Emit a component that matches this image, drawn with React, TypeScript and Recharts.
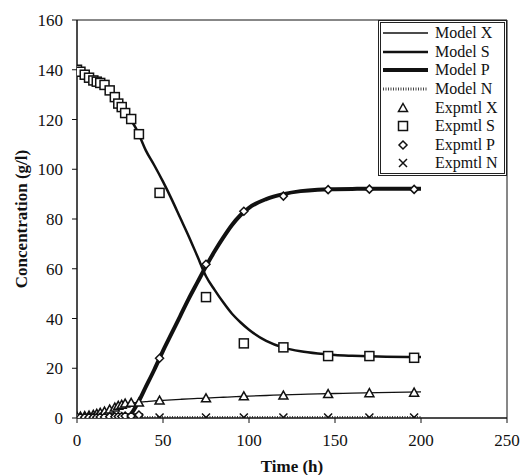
import { ComposedChart, Legend, Line, ReferenceArea, Scatter, XAxis, YAxis } from 'recharts'

// model curves
const modelTime = [0, 5, 10, 15, 20, 25, 30, 35, 40, 45, 50, 55, 60, 65, 70, 75, 80, 85, 90, 95, 100, 110, 120, 130, 140, 150, 160, 175, 200]
const modelX = [0.5, 0.9, 1.5, 2.5, 3.7, 5.0, 5.9, 6.3, 6.6, 6.9, 7.1, 7.3, 7.5, 7.7, 7.85, 8.0, 8.2, 8.35, 8.5, 8.65, 8.8, 9.05, 9.3, 9.5, 9.7, 9.85, 10.0, 10.2, 10.5]
const modelS = [140, 138, 135.7, 133.5, 130.5, 126.3, 121.3, 115.5, 107.6, 101.5, 95, 88, 80.5, 73, 65, 57, 51.5, 46.5, 42, 38.5, 35.5, 31, 28.3, 26.8, 25.9, 25.3, 25, 24.7, 24.5]
const modelP = [null, null, null, null, null, null, 0, 5.5, 12.5, 19.5, 27, 34, 41, 48, 54.5, 61, 67, 72.5, 77.5, 81.5, 84.5, 88, 90, 91.2, 91.8, 92, 92.1, 92.2, 92.2]
const modelN = [0.2, 0.2, 0.2, 0.2, 0.2, 0.2, 0.2, 0.2, 0.2, 0.2, 0.2, 0.2, 0.2, 0.2, 0.2, 0.2, 0.2, 0.2, 0.2, 0.2, 0.2, 0.2, 0.2, 0.2, 0.2, 0.2, 0.2, 0.2, 0.2]

// experimental points
const expTime = [0, 2, 4.5, 7, 9.5, 11.5, 13.5, 16, 19, 22, 24, 26, 28, 31.5, 36, 48, 75, 97, 120, 146, 170, 196]
const expX = [0.5, 0.6, 0.8, 1.0, 1.3, 1.7, 2.1, 2.6, 3.4, 4.2, 4.9, 5.3, 5.8, 6.1, 6.2, 7.0, 7.9, 8.7, 9.0, 9.6, 10.0, 10.2]
const expS = [140, 139.2, 138, 136.8, 135.7, 135.2, 134.7, 133.9, 131.7, 129, 126.4, 125, 122.6, 120.2, 114.1, 90.5, 48.6, 30, 28.4, 24.9, 24.9, 24.2]
const expP = [0.3, 0.3, 0.3, 0.3, 0.3, 0.3, 0.4, 0.4, 0.5, 0.5, 0.6, 0.6, 0.8, 0.8, 1.2, 24, 61.8, 83.1, 89.2, 91.8, 92, 91.9]
const expN = [0.2, 0.2, 0.2, 0.2, 0.2, 0.2, 0.2, 0.2, 0.2, 0.2, 0.2, 0.2, 0.2, 0.2, 0.2, 0.2, 0.2, 0.2, 0.2, 0.2, 0.2, 0.2]

const xTicks = [0, 50, 100, 150, 200, 250]
const yTicks = [0, 20, 40, 60, 80, 100, 120, 140, 160]

const legendNames = ['Model X', 'Model S', 'Model P', 'Model N', 'Expmtl X', 'Expmtl S', 'Expmtl P', 'Expmtl N']

const FONT = '"Liberation Serif", "Times New Roman", serif'
const INK = '#111'

const pair = (ts: number[], vs: (number | null)[]) => ts.map((t, i) => ({ t, v: vs[i] }))

const Tri = ({ cx, cy }: any) => (
  <path d={`M${cx},${cy - 4.5}L${cx + 4.5},${cy + 3.5}L${cx - 4.5},${cy + 3.5}Z`} fill="#fff" stroke={INK} strokeWidth={1.5} />
)
const Sq = ({ cx, cy }: any) => (
  <rect x={cx - 4.5} y={cy - 4.5} width={9} height={9} fill="#fff" stroke={INK} strokeWidth={1.5} />
)
const Dia = ({ cx, cy }: any) => (
  <path d={`M${cx},${cy - 4}L${cx + 4},${cy}L${cx},${cy + 4}L${cx - 4},${cy}Z`} fill="#fff" stroke={INK} strokeWidth={1.5} />
)
const Cross = ({ cx, cy }: any) => (
  <path d={`M${cx - 4},${cy - 4}L${cx + 4},${cy + 4}M${cx - 4},${cy + 4}L${cx + 4},${cy - 4}`} stroke={INK} strokeWidth={1.5} />
)

const lineStyle: Record<string, any> = {
  'Model X': { stroke: INK, strokeWidth: 1.3 },
  'Model S': { stroke: INK, strokeWidth: 2.5 },
  'Model P': { stroke: INK, strokeWidth: 4 },
  'Model N': { stroke: '#444', strokeWidth: 3, strokeDasharray: '1 1.5' },
}
const markers: Record<string, any> = { 'Expmtl X': Tri, 'Expmtl S': Sq, 'Expmtl P': Dia, 'Expmtl N': Cross }

function LegendBox() {
  return (
    <div style={{ border: '3px double #222', background: '#fff', width: 123, paddingTop: 1, fontFamily: FONT, fontSize: 16, color: INK }}>
      {legendNames.map((name) => {
        const M = markers[name]
        return (
          <div key={name} style={{ display: 'flex', alignItems: 'center', height: 18.6 }}>
            <svg width={52} height={18} style={{ flex: 'none' }}>
              {M ? <M cx={22} cy={9} /> : <line x1={2} x2={47} y1={9} y2={9} {...lineStyle[name]} />}
            </svg>
            <span style={{ marginLeft: 2, lineHeight: '18px' }}>{name}</span>
          </div>
        )
      })}
    </div>
  )
}

export default function App() {
  const tick = { fontSize: 17, fill: INK, fontFamily: FONT }
  return (
    <div style={{ position: 'absolute', left: 0, top: 0, background: '#fff' }}>
      <ComposedChart width={521} height={475} margin={{ top: 20, right: 14, bottom: 0, left: 0 }}>
        <XAxis dataKey="t" type="number" domain={[0, 250]} ticks={xTicks} height={57} tick={tick} tickSize={5} tickMargin={11}
          stroke={INK} allowDataOverflow
          label={{ value: 'Time (h)', position: 'insideBottom', offset: 3, style: { fontSize: 17, fontWeight: 700, fill: INK, fontFamily: FONT } }} />
        <XAxis xAxisId="in" type="number" domain={[0, 250]} ticks={xTicks} mirror tick={false} axisLine={false} tickSize={5} stroke={INK} allowDataOverflow />
        <YAxis dataKey="v" type="number" domain={[0, 160]} ticks={yTicks} width={77} tick={tick} tickSize={5} tickMargin={9}
          stroke={INK} allowDataOverflow
          label={{ value: 'Concentration (g/l)', angle: -90, position: 'center', dx: -18, style: { fontSize: 17, fontWeight: 700, fill: INK, fontFamily: FONT, textAnchor: 'middle' } }} />
        <YAxis yAxisId="in" type="number" domain={[0, 160]} ticks={yTicks} mirror tick={false} axisLine={false} tickSize={5} stroke={INK} allowDataOverflow />
        <ReferenceArea x1={0} x2={250} y1={0} y2={160} fill="none" fillOpacity={0} stroke={INK} strokeWidth={1} />
        <Line data={pair(modelTime, modelN)} dataKey="v" name="Model N" type="monotone" dot={false} {...lineStyle['Model N']} isAnimationActive={false} />
        <Line data={pair(modelTime, modelX)} dataKey="v" name="Model X" type="monotone" dot={false} {...lineStyle['Model X']} isAnimationActive={false} />
        <Line data={pair(modelTime, modelS)} dataKey="v" name="Model S" type="monotone" dot={false} {...lineStyle['Model S']} isAnimationActive={false} />
        <Line data={pair(modelTime, modelP)} dataKey="v" name="Model P" type="monotone" dot={false} {...lineStyle['Model P']} isAnimationActive={false} />
        <Scatter data={pair(expTime, expN)} dataKey="v" name="Expmtl N" shape={Cross} isAnimationActive={false} />
        <Scatter data={pair(expTime, expX)} dataKey="v" name="Expmtl X" shape={Tri} isAnimationActive={false} />
        <Scatter data={pair(expTime, expP)} dataKey="v" name="Expmtl P" shape={Dia} isAnimationActive={false} />
        <Scatter data={pair(expTime, expS)} dataKey="v" name="Expmtl S" shape={Sq} isAnimationActive={false} />
        <Legend content={LegendBox} layout="vertical" align="center" verticalAlign="middle" wrapperStyle={{ top: 20, left: 378, width: 129 }} />
      </ComposedChart>
    </div>
  )
}
